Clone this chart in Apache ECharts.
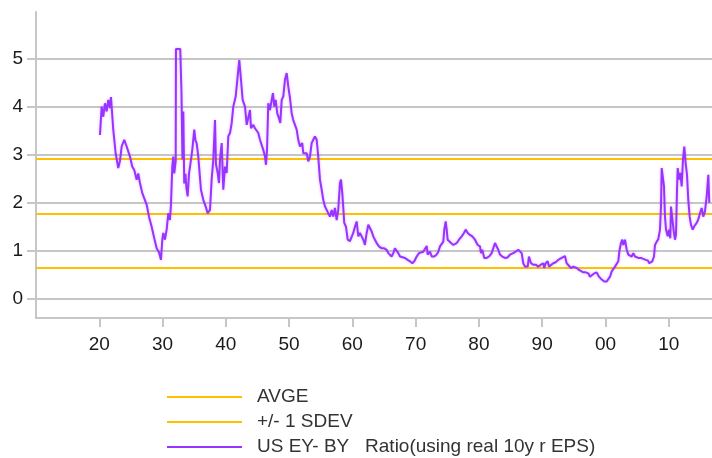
<!DOCTYPE html>
<html><head><meta charset="utf-8">
<script src="https://cdn.jsdelivr.net/npm/echarts@6/dist/echarts.min.js"></script>
<style>html,body{margin:0;padding:0;background:#fff}#c{width:712px;height:458px}</style>
</head><body><div id="c"></div>
<script>
const years = [
1920.11,1920.38,1920.63,1920.90,1921.17,1921.42,1921.69,1921.85,1922.21,1922.59,
1923.00,1923.27,1923.54,1923.95,1924.33,1924.58,1924.85,1925.22,1925.53,1925.91,
1926.16,1926.43,1926.80,1927.11,1927.49,1927.86,1928.28,1928.69,1929.07,1929.44,
1929.75,1929.96,1930.12,1930.38,1930.65,1930.91,1931.17,1931.33,1931.54,1931.70,
1931.85,1932.08,1932.12,1932.80,1932.99,1933.15,1933.28,1933.43,1933.62,1933.78,
1933.97,1934.18,1934.45,1934.70,1935.01,1935.20,1935.39,1935.65,1936.07,1936.44,
1936.82,1937.13,1937.50,1937.76,1938.02,1938.29,1938.44,1938.71,1938.92,1939.08,
1939.35,1939.60,1939.87,1940.14,1940.39,1940.66,1940.93,1941.18,1941.56,1941.87,
1942.13,1942.40,1942.66,1943.03,1943.30,1943.55,1943.82,1943.98,1944.34,1944.61,
1944.88,1945.13,1945.40,1945.67,1945.92,1946.19,1946.35,1946.51,1946.71,1946.98,
1947.25,1947.45,1947.66,1947.88,1948.13,1948.40,1948.61,1948.83,1949.08,1949.35,
1949.62,1949.87,1950.14,1950.41,1950.66,1950.93,1951.20,1951.45,1951.72,1952.08,
1952.24,1952.51,1952.78,1953.03,1953.30,1953.57,1953.82,1954.09,1954.36,1954.61,
1954.88,1955.15,1955.40,1955.67,1955.94,1956.19,1956.46,1956.73,1956.98,1957.25,
1957.52,1957.77,1958.04,1958.20,1958.41,1958.72,1958.99,1959.26,1959.62,1959.89,
1960.14,1960.41,1960.68,1960.94,1961.20,1961.47,1961.73,1961.99,1962.26,1962.52,
1962.78,1963.05,1963.31,1963.57,1963.84,1964.21,1964.63,1965.04,1965.42,1965.68,
1965.95,1966.21,1966.47,1966.73,1967.00,1967.26,1967.53,1967.79,1968.32,1968.74,
1969.11,1969.47,1969.79,1970.17,1970.53,1970.84,1971.21,1971.48,1971.75,1971.90,
1972.27,1972.54,1972.95,1973.33,1973.58,1973.85,1974.12,1974.37,1974.53,1974.75,
1974.91,1975.06,1975.27,1975.59,1975.95,1976.22,1976.49,1976.85,1977.28,1977.64,
1977.91,1978.23,1978.59,1978.95,1979.38,1979.81,1980.17,1980.33,1980.53,1980.85,
1981.23,1981.59,1982.02,1982.27,1982.54,1982.81,1983.06,1983.33,1983.69,1984.12,
1984.55,1984.91,1985.43,1985.81,1986.22,1986.49,1986.76,1987.01,1987.28,1987.55,
1987.71,1987.91,1988.23,1988.59,1988.97,1989.38,1989.81,1990.17,1990.33,1990.55,
1990.87,1991.08,1991.39,1991.75,1992.13,1992.54,1993.08,1993.33,1993.60,1993.87,
1994.13,1994.55,1994.92,1995.19,1995.46,1995.82,1996.13,1996.50,1996.88,1997.29,
1997.56,1997.82,1998.24,1998.61,1998.98,1999.41,1999.82,2000.20,2000.45,2000.72,
2000.99,2001.24,2001.51,2001.78,2002.03,2002.19,2002.45,2002.66,2002.82,2003.09,
2003.36,2003.61,2003.88,2004.15,2004.40,2004.67,2004.94,2005.19,2005.62,2005.98,
2006.36,2006.68,2006.93,2007.20,2007.40,2007.67,2007.83,2008.10,2008.35,2008.62,
2008.78,2008.89,2009.05,2009.25,2009.41,2009.57,2009.84,2010.04,2010.25,2010.36,
2010.56,2010.78,2010.99,2011.15,2011.31,2011.42,2011.62,2011.83,2012.05,2012.25,
2012.46,2012.68,2012.89,2013.09,2013.31,2013.52,2013.79,2014.04,2014.42,2014.67,
2014.94,2015.21,2015.46,2015.73,2016.00,2016.26,2016.41
];
const ratio = [
3.41,4.00,3.79,4.07,3.90,4.14,3.97,4.20,3.52,3.03,
2.72,2.87,3.17,3.31,3.17,3.14,2.96,2.75,2.68,2.48,
2.61,2.41,2.20,2.17,1.96,1.71,1.50,1.26,1.05,0.97,
0.81,1.23,1.37,1.23,1.44,1.78,1.64,1.96,2.75,2.96,
2.61,2.87,5.20,5.20,4.30,2.90,3.90,2.40,2.60,2.30,
2.13,2.60,2.85,3.10,3.52,3.30,3.24,2.96,2.27,2.06,
1.92,1.78,1.85,2.48,2.89,3.72,2.80,2.62,2.41,2.90,
3.24,2.27,2.75,2.62,3.38,3.45,3.66,4.00,4.21,4.63,
4.97,4.56,4.14,4.00,3.62,3.66,3.93,3.55,3.62,3.55,
3.52,3.45,3.31,3.31,3.10,2.96,2.79,3.10,4.07,3.93,
4.14,4.28,4.00,4.14,3.86,3.76,3.66,4.14,4.21,4.56,
4.70,4.42,4.18,3.86,3.72,3.70,3.52,3.31,3.17,3.24,
3.03,3.00,3.03,2.86,2.96,3.24,3.31,3.38,3.31,2.96,
2.48,2.27,2.06,1.92,1.85,1.78,1.71,1.85,1.71,1.89,
1.64,1.85,2.41,2.48,2.20,1.58,1.50,1.23,1.20,1.16,
1.37,1.50,1.61,1.30,1.37,1.30,1.23,1.12,1.37,1.54,
1.50,1.40,1.30,1.23,1.16,1.09,1.05,1.05,1.02,0.95,
0.92,0.88,0.95,1.05,1.02,0.95,0.88,0.85,0.85,0.81,
0.78,0.74,0.78,0.88,0.95,0.92,0.98,0.95,1.10,0.92,
0.98,0.88,0.88,0.92,0.98,1.09,1.05,1.19,1.44,1.61,
1.44,1.23,1.23,1.16,1.12,1.09,1.16,1.23,1.30,1.37,
1.44,1.37,1.33,1.30,1.23,1.12,1.09,0.95,1.02,0.85,
0.85,0.88,0.95,1.05,1.16,1.14,1.02,0.92,0.88,0.85,
0.86,0.92,0.95,0.98,1.02,1.00,0.95,0.74,0.67,0.64,
0.67,0.88,0.74,0.71,0.71,0.67,0.71,0.74,0.64,0.74,
0.78,0.67,0.71,0.74,0.76,0.81,0.85,0.81,0.89,0.74,
0.71,0.64,0.67,0.68,0.64,0.60,0.60,0.55,0.55,0.53,
0.46,0.50,0.53,0.55,0.46,0.40,0.36,0.36,0.40,0.46,
0.57,0.57,0.67,0.71,0.78,0.98,1.16,1.23,1.12,1.23,
1.02,0.92,0.95,0.88,0.95,0.88,0.92,0.85,0.85,0.83,
0.81,0.80,0.74,0.71,0.78,0.88,1.12,1.19,1.24,1.44,
1.92,2.72,2.68,2.34,1.71,1.44,1.30,1.44,1.26,1.92,
1.96,1.42,1.23,1.33,2.27,2.72,2.48,2.62,2.34,2.89,
3.17,2.82,2.58,2.06,1.71,1.54,1.44,1.51,1.58,1.65,
1.78,1.89,1.71,1.82,2.13,2.58,2.00
];
const avge = 1.78;
const sdevBand = [2.91, 0.65];
const xTickYears = [1920,1930,1940,1950,1960,1970,1980,1990,2000,2010];
const xTickLabels = ['20','30','40','50','60','70','80','90','00','10'];
const yTicks = [0,1,2,3,4,5];
const seriesNames = ['AVGE','+/- 1 SDEV','US EY- BY   Ratio(using real 10y r EPS)'];

const font = "'Liberation Sans', Arial, sans-serif";
const yellow = '#FFC000';
const purple = '#9933FF';
const gridGray = '#c6c6c6';

const chart = echarts.init(document.getElementById('c'), null, {renderer:'canvas'});
chart.setOption({
  animation:false,
  grid:{left:36, top:12, right:0, bottom:140},
  xAxis:{
    type:'value', min:1910, max:2016.84,
    axisLine:{show:true, onZero:false, lineStyle:{color:gridGray, width:2}},
    axisTick:{show:true, customValues:xTickYears, length:9, lineStyle:{color:gridGray, width:2}},
    axisLabel:{customValues:xTickYears, formatter:v => xTickLabels[xTickYears.indexOf(v)],
      margin:17, fontSize:19, color:'#1a1a1a', fontFamily:font},
    splitLine:{show:false}
  },
  yAxis:{
    type:'value', min:-0.4, max:5.97,
    axisLine:{show:true, lineStyle:{color:gridGray, width:2}},
    axisTick:{show:true, customValues:yTicks, length:9, lineStyle:{color:gridGray, width:2}},
    axisLabel:{customValues:yTicks, margin:13, fontSize:19, color:'#1a1a1a', fontFamily:font},
    splitLine:{show:true, lineStyle:{color:gridGray, width:2}}
  },
  legend:{
    orient:'vertical', left:167, top:387, height:90, padding:0,
    itemWidth:75, itemHeight:2, itemGap:5, icon:'rect',
    data:seriesNames,
    textStyle:{fontSize:19, color:'#333', fontFamily:font, lineHeight:20, padding:[0,0,0,10]}
  },
  series:[
    {name:seriesNames[0], type:'line', data:[], color:yellow, itemStyle:{color:yellow}, lineStyle:{color:yellow},
     markLine:{silent:true, symbol:'none', label:{show:false}, lineStyle:{color:yellow, width:2, type:'solid'},
       data:[{yAxis:avge}]}},
    {name:seriesNames[1], type:'line', data:[], color:yellow, itemStyle:{color:yellow}, lineStyle:{color:yellow},
     markLine:{silent:true, symbol:'none', label:{show:false}, lineStyle:{color:yellow, width:2, type:'solid'},
       data:sdevBand.map(v => ({yAxis:v}))}},
    {name:seriesNames[2], type:'line', z:5, showSymbol:false, color:purple, itemStyle:{color:purple},
     lineStyle:{color:purple, width:2, shadowColor:'rgba(153,51,255,0.35)', shadowBlur:3},
     data:years.map((y,i) => [y, ratio[i]])}
  ]
});
</script></body></html>
